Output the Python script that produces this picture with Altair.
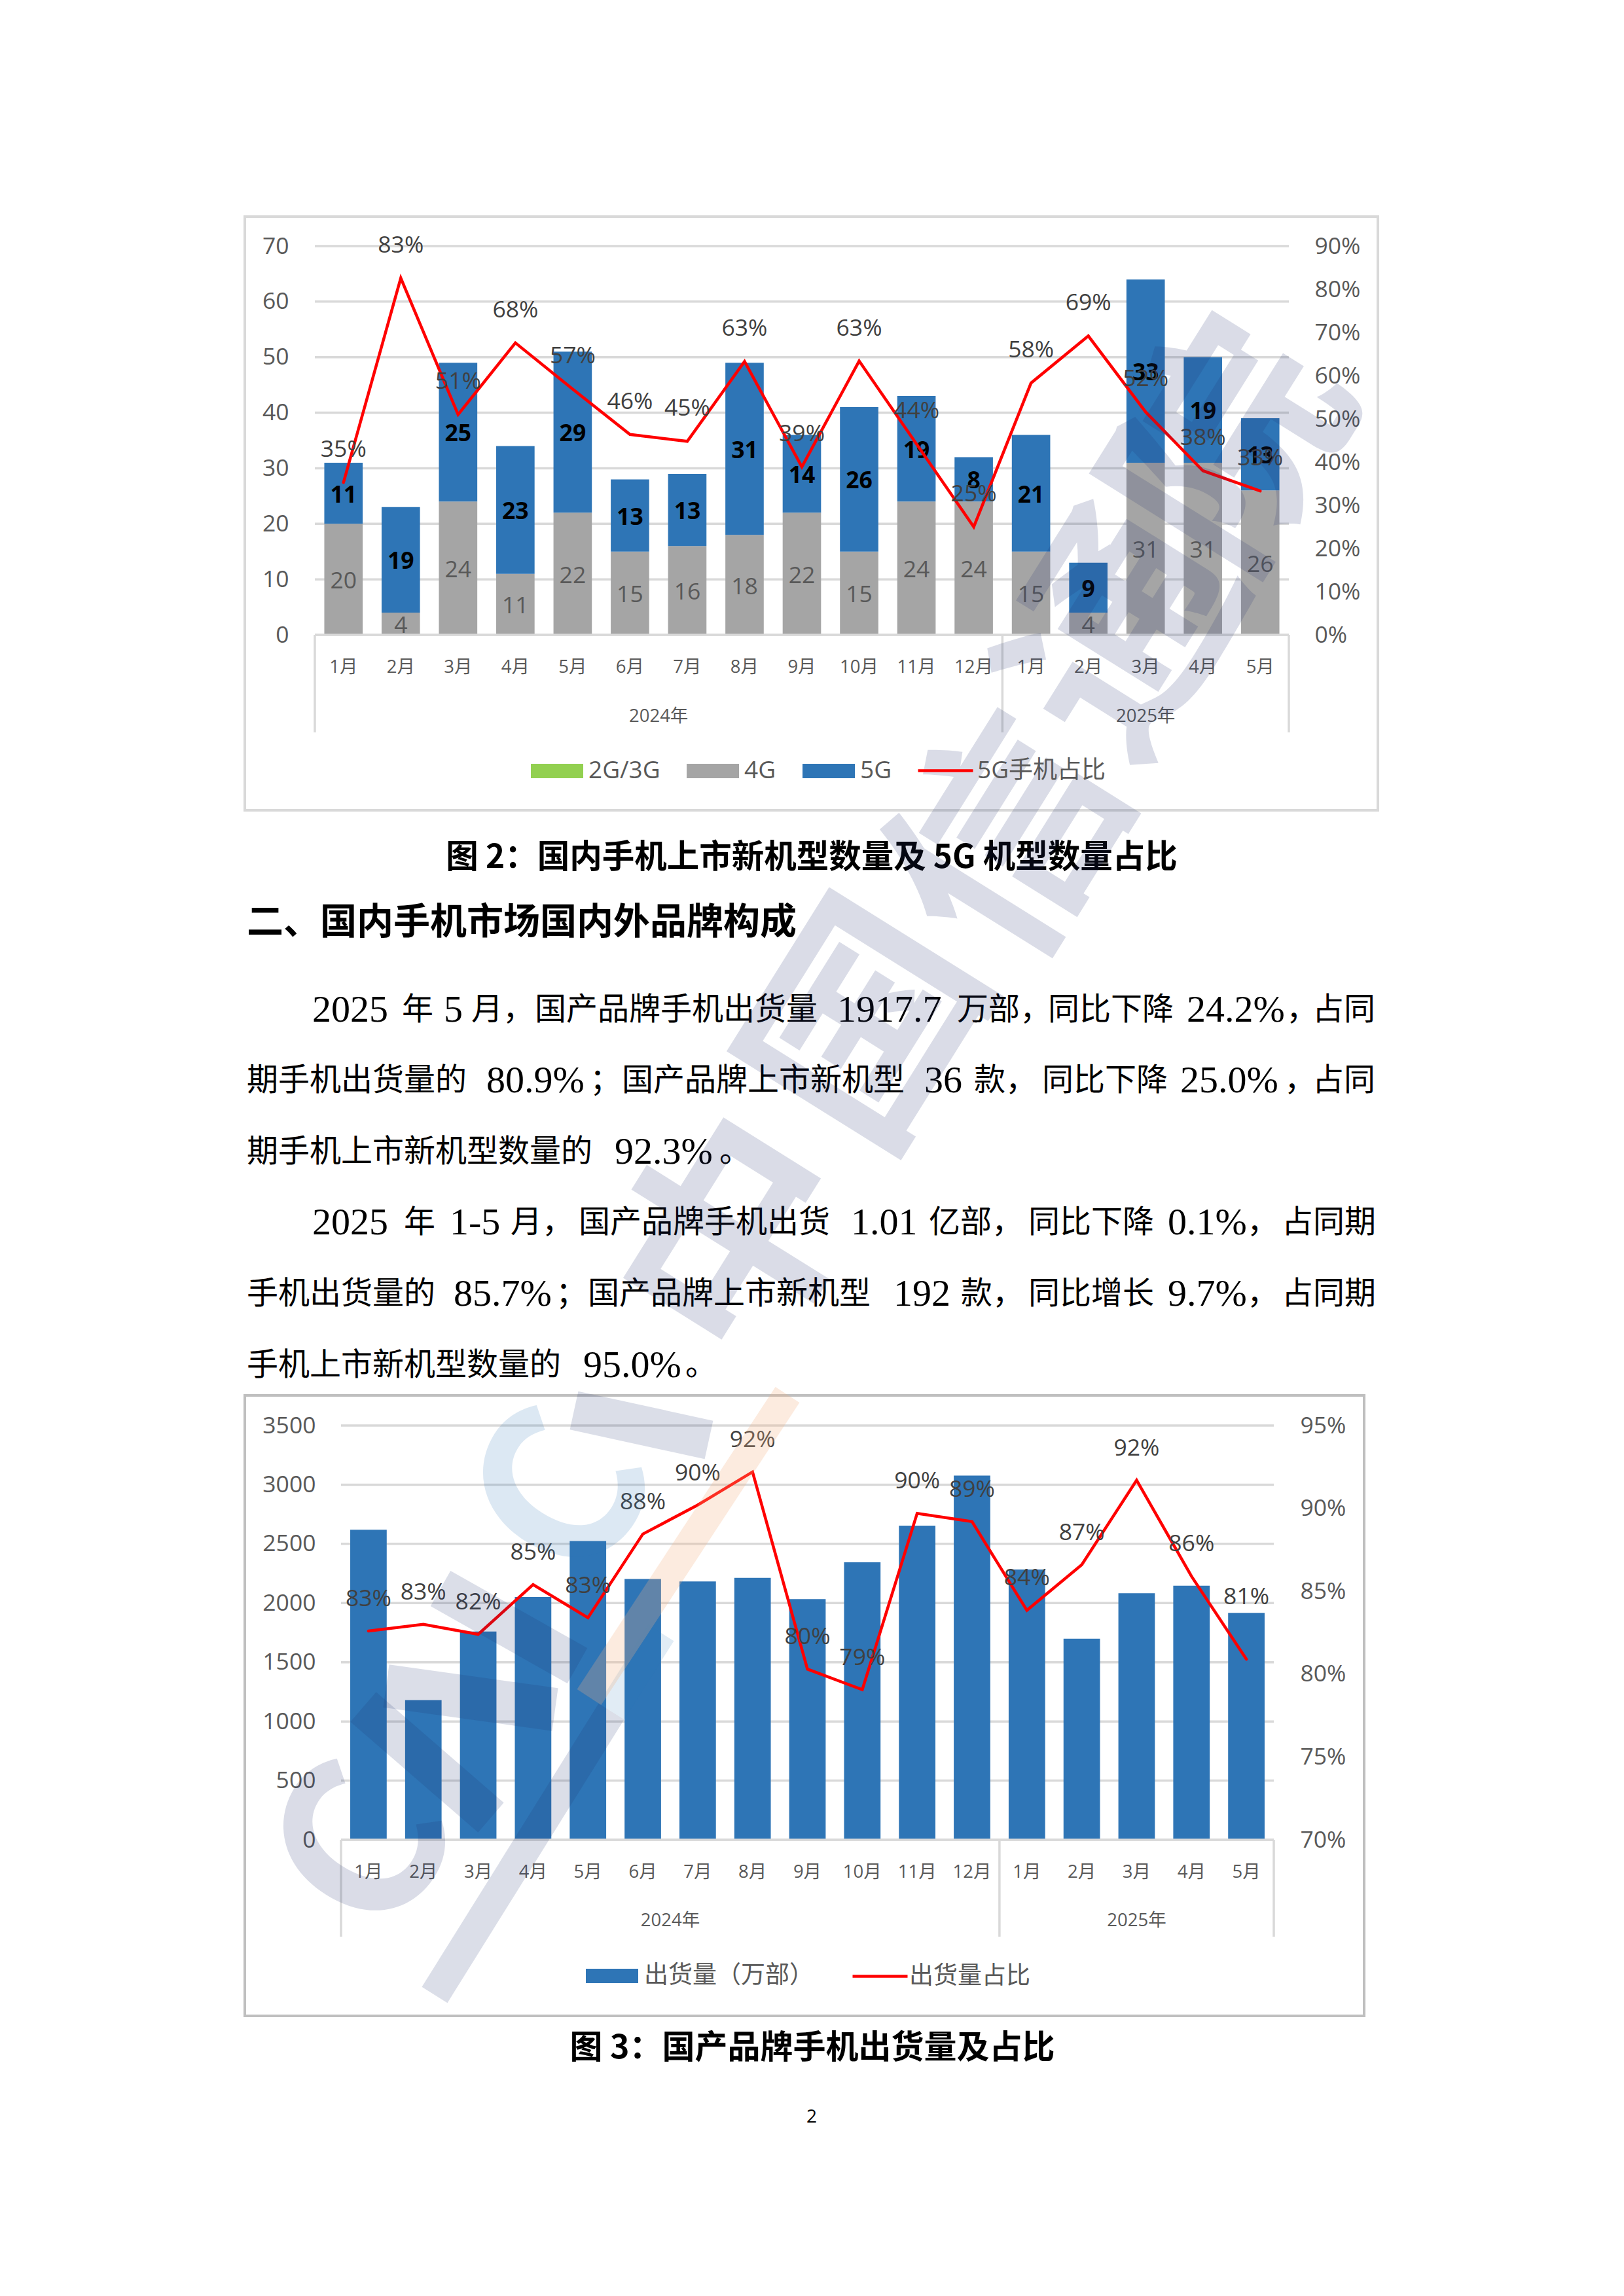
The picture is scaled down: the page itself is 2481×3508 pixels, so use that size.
import altair as alt
import pandas as pd

# ---------- chart values ----------
months = ["1月","2月","3月","4月","5月","6月","7月","8月","9月","10月","11月","12月","1月","2月","3月","4月","5月"]
years = ["2024"]*12 + ["2025"]*5
keys = [y+"-"+m for y,m in zip(years,months)]
models_4g = [20,4,24,11,22,15,16,18,22,15,24,24,15,4,31,31,26]
models_5g = [11,19,25,23,29,13,13,31,14,26,19,8,21,9,33,19,13]
share_5g = [.353,.826,.51,.676,.569,.464,.448,.633,.389,.634,.442,.25,.583,.692,.516,.38,.333]
shipments = [2619,1181,1759,2051,2524,2203,2182,2213,2034,2344,2654,3077,2284,1699,2083,2147,1917.7]
share_dom = [.826,.830,.824,.854,.834,.8845,.902,.922,.803,.7906,.897,.892,.8385,.866,.917,.859,.809]
share_dom_label_anchor = [.826,.830,.824,.854,.834,.8845,.902,.922,.803,.7906,.897,.892,.8385,.866,.917,.859,.827]
series_1 = ["2G/3G","4G","5G"]
ticks_left_1 = [0,10,20,30,40,50,60,70]
ticks_right_1 = [0,.1,.2,.3,.4,.5,.6,.7,.8,.9]
ticks_left_2 = [0,500,1000,1500,2000,2500,3000,3500]
ticks_right_2 = [.70,.75,.80,.85,.90,.95]
year_labels = ["2024年","2025年"]

body_runs = [
 (1544,[("2025",477,1),("年",614,0),("5",678,1),("月，",720,0),("国产品牌手机出货量",817,0),("1917.7",1279,1),("万部，",1462,0),("同比下降",1601,0),("24.2%",1813,1),("，",1965,0),("占同",2005,0)]),
 (1652,[("期手机出货量的",377,0),("80.9%",743,1),("；",901,0),("国产品牌上市新机型",950,0),("36",1412,1),("款，",1488,0),("同比下降",1592,0),("25.0%",1803,1),("，",1962,0),("占同",2005,0)]),
 (1761,[("期手机上市新机型数量的",377,0),("92.3%",939,1),("。",1099,0)]),
 (1869,[("2025",477,1),("年",617,0),("1-5",687,1),("月，",780,0),("国产品牌手机出货",884,0),("1.01",1300,1),("亿部，",1419,0),("同比下降",1571,0),("0.1%",1784,1),("，",1905,0),("占同期",1958,0)]),
 (1978,[("手机出货量的",377,0),("85.7%",693,1),("；",849,0),("国产品牌上市新机型",898,0),("192",1365,1),("款，",1468,0),("同比增长",1571,0),("9.7%",1784,1),("，",1905,0),("占同期",1958,0)]),
 (2087,[("手机上市新机型数量的",377,0),("95.0%",891,1),("。",1047,0)]),
]

SANS = "Open Sans, Noto Sans CJK SC"
CJK = "Noto Sans CJK SC"
SERIF = "Liberation Serif"
GRID = "#d9d9d9"
BLUE = "#2e75b6"
GREY = "#a5a5a5"
GREEN = "#92d050"
TXT = "#595959"
LAB = "#404040"
one = pd.DataFrame({"a":[0]})

def V(p):           # page pixel to view pixel
    return p-8

def text(s,x,y,size,font=CJK,weight="normal",color="black",align="left",angle=None,opacity=None):
    kw = dict(fontSize=size,font=font,fontWeight=weight,color=color,align=align,baseline="middle")
    if angle is not None: kw["angle"]=angle
    if opacity is not None: kw["opacity"]=opacity
    return alt.Chart(one).mark_text(**kw).encode(x=alt.value(V(x)),y=alt.value(V(y)),text=alt.value(s))

def frame(x0,y0,x1,y1,color):
    return alt.Chart(one).mark_rect(fillOpacity=0,stroke=color,strokeWidth=4).encode(
        x=alt.value(V(x0)),x2=alt.value(V(x1)),y=alt.value(V(y0)),y2=alt.value(V(y1)))

def stroke_band(x0,y0,x1,y1,width,color,op):
    return alt.Chart(one).mark_rule(strokeWidth=width,color=color,opacity=op).encode(
        x=alt.value(V(x0)),x2=alt.value(V(x1)),y=alt.value(V(y0)),y2=alt.value(V(y1)))

W,H = 2465,3492
LEG_BOX = "M0,-0.55H4V0.55H0Z"
LEG_LINE = "M0,0H4"
NUM = 35.5

def panel(cfg):
    x0,x1,y0,y1 = cfg["x0"],cfg["x1"],cfg["y0"],cfg["y1"]
    xs = alt.Scale(domain=keys,range=[V(x0),V(x1)],paddingInner=cfg["pad"],paddingOuter=cfg["pad"]/2)
    sx = alt.Scale(domain=[0,17],range=[V(x0),V(x1)],nice=False,zero=False)
    yl = alt.Scale(domain=cfg["dom_l"],range=[V(y0),V(y1)],nice=False,zero=False)
    yr = alt.Scale(domain=cfg["dom_r"],range=[V(y0),V(y1)],nice=False,zero=False)
    L = []
    L.append(alt.Chart(pd.DataFrame({"v":cfg["ticks_l"]})).mark_rule(color=GRID,strokeWidth=3.5).encode(
        y=alt.Y("v:Q",scale=yl,axis=None),x=alt.value(V(x0)),x2=alt.value(V(x1))))
    xaxis = alt.Axis(title=None,orient="bottom",offset=-(H-V(y0)),labelPadding=cfg["lab_pad"],labelFontSize=27.5,labelFont=SANS,
                     labelColor=TXT,ticks=False,domain=False,grid=False,labelAngle=0,labelOverlap=False,
                     labelExpr="split(datum.label,'-')[1]")
    yaxis = alt.Axis(title=None,orient="left",offset=-V(cfg["lx"]),values=cfg["ticks_l"],labelPadding=0,labelFontSize=NUM,labelFont=SANS,
                     labelColor=TXT,ticks=False,domain=False,grid=False,labelOverlap=False,format="d",labelOffset=0)
    bars = cfg["bars"]
    L.append(alt.Chart(bars).mark_bar().encode(
        x=alt.X("key:N",scale=xs,axis=xaxis,sort=keys),
        y=alt.Y("lo:Q",scale=yl,axis=yaxis),y2="hi:Q",
        fill=alt.Fill("series:N",scale=alt.Scale(domain=cfg["fill_dom"],range=cfg["fill_rng"]),
            legend=alt.Legend(title=None,orient="none",legendX=cfg["leg_x"],legendY=cfg["leg_y"],direction="horizontal",
                symbolType=LEG_BOX,symbolSize=1600,symbolStrokeWidth=0,labelFontSize=37,labelFont=SANS,labelColor=TXT,
                labelOffset=cfg["leg_off"],columnPadding=20,padding=0,labelLimit=400,columns=len(cfg["fill_dom"]))),
    ))
    for lab in cfg["labels"]:
        L.append(alt.Chart(lab["df"]).mark_text(fontSize=NUM,font=SANS,fontWeight=lab["w"],color=lab["c"],baseline="middle",dy=3).encode(
            x=alt.X("key:N",scale=xs,axis=None,sort=keys),
            y=alt.Y("mid:Q",scale=yl,axis=None),text=alt.Text("val:Q",format="d")))
    raxis = alt.Axis(title=None,orient="right",offset=-(W-V(cfg["rx"])),values=cfg["ticks_r"],labelPadding=0,labelFontSize=NUM,labelFont=SANS,
                     labelColor=TXT,ticks=False,domain=False,grid=False,labelOverlap=False,format=".0%",labelOffset=0)
    L.append(alt.Chart(cfg["line"]).mark_line(strokeWidth=4.5,strokeJoin="miter",strokeCap="round").encode(
        x=alt.X("key:N",scale=xs,axis=None,sort=keys),
        y=alt.Y("share:Q",scale=yr,axis=raxis),
        order="i:Q",
        stroke=alt.Stroke("name:N",scale=alt.Scale(domain=[cfg["line_name"]],range=["#ff0000"]),
            legend=alt.Legend(title=None,orient="none",legendX=cfg["sleg_x"],legendY=cfg["sleg_y"],direction="horizontal",
                symbolType=LEG_LINE,symbolSize=1764,symbolStrokeWidth=4.5,labelFontSize=37,labelFont=SANS,labelColor=TXT,
                labelOffset=cfg["sleg_off"],padding=0,labelLimit=400))))
    L.append(alt.Chart(cfg["line"]).mark_text(fontSize=NUM,font=SANS,color=LAB,baseline="middle",dy=cfg["dy"]).encode(
        x=alt.X("key:N",scale=xs,axis=None,sort=keys),
        y=alt.Y("anchor:Q",scale=yr,axis=None),
        text=alt.Text("share:Q",format=".0%")))
    L.append(alt.Chart(pd.DataFrame({"a":[0],"b":[17]})).mark_rule(color=GRID,strokeWidth=3.5).encode(
        x=alt.X("a:Q",scale=sx,axis=None),x2="b:Q",y=alt.value(V(y0))))
    L.append(alt.Chart(pd.DataFrame({"a":[0,12,17]})).mark_rule(color=GRID,strokeWidth=3.5).encode(
        x=alt.X("a:Q",scale=sx,axis=None),y=alt.value(V(y0)),y2=alt.value(V(cfg["sep"]))))
    L.append(alt.Chart(pd.DataFrame({"a":[6,14.5],"t":year_labels})).mark_text(fontSize=27.5,font=SANS,color=TXT,baseline="middle").encode(
        x=alt.X("a:Q",scale=sx,axis=None),y=alt.value(V(cfg["yr"])),text="t:N"))
    return L

idx = list(range(17))
b1 = pd.DataFrame({"key":keys*2,
    "series":["4G"]*17+["5G"]*17,
    "lo":[0]*17+models_4g,
    "hi":models_4g+[a+b for a,b in zip(models_4g,models_5g)]})
lab4 = pd.DataFrame({"key":keys,"mid":[a/2 for a in models_4g],"val":models_4g})
lab5 = pd.DataFrame({"key":keys,"mid":[a+b/2 for a,b in zip(models_4g,models_5g)],"val":models_5g})
line1 = pd.DataFrame({"key":keys,"share":share_5g,"anchor":share_5g,"i":idx,"name":"5G手机占比"})

c1 = dict(x0=481,x1=1969,y0=970,y1=376,pad=.33,dom_l=[0,70],dom_r=[0,.9],ticks_l=ticks_left_1,ticks_r=ticks_right_1,
    lx=441,rx=2008,lab_pad=35,bars=b1,fill_dom=series_1,fill_rng=[GREEN,GREY,BLUE],
    leg_x=783,leg_y=1150,leg_off=68,sleg_x=1371,sleg_y=1146,sleg_off=67,
    labels=[dict(df=lab4,w="normal",c=TXT),dict(df=lab5,w="bold",c="black")],
    line=line1,line_name="5G手机占比",dy=-50,sep=1119,yr=1095)

b2 = pd.DataFrame({"key":keys,"series":"出货量（万部）","lo":[0]*17,"hi":shipments})
line2 = pd.DataFrame({"key":keys,"share":share_dom,"anchor":share_dom_label_anchor,"i":idx,"name":"出货量占比"})
c2 = dict(x0=521,x1=1946,y0=2811,y1=2178,pad=.335,dom_l=[0,3500],dom_r=[.70,.95],ticks_l=ticks_left_2,ticks_r=ticks_right_2,
    lx=482,rx=1986,lab_pad=35,bars=b2,fill_dom=["出货量（万部）"],fill_rng=[BLUE],
    leg_x=867,leg_y=2991,leg_off=69,sleg_x=1271,sleg_y=2988,sleg_off=63,
    labels=[],line=line2,line_name="出货量占比",dy=-49,sep=2959,yr=2935)

layers = [frame(374,331,2105,1238,"#d9d9d9"),frame(374,2132,2084,3080,"#bfbfbf")]
layers += panel(c1)
layers += panel(c2)

layers.append(text("图 2：国内手机上市新机型数量及 5G 机型数量占比",1240,1311,49.5,weight="bold",align="center"))
layers.append(text("二、国内手机市场国内外品牌构成",377,1410,56,weight="bold"))
layers.append(text("图 3：国产品牌手机出货量及占比",1241,3130,50,weight="bold",align="center"))
layers.append(text("2",1240,3235,28,font=SANS,align="center"))
for y,runs in body_runs:
    for s,x,latin in runs:
        if latin:
            layers.append(text(s,x,y,58,font=SERIF))
        else:
            layers.append(text(s,x,y,48))

# watermark
WM = "#1f2f6f"
for ch,x,y in [("中",1140,1900),("国",1340,1575),("信",1555,1290),("通",1730,975),("院",1895,690)]:
    layers.append(text(ch,x,y,350,weight="bold",color=WM,align="center",angle=302,opacity=.16))
layers.append(text("C",565,2830,330,weight="bold",color=WM,align="center",angle=302,opacity=.16))
layers.append(text("C",870,2290,330,weight="bold",color="#2e75b6",align="center",angle=302,opacity=.16))
layers.append(stroke_band(664,3048,934,2615,46,WM,.16))
layers.append(stroke_band(934,2615,1010,2495,46,"#2e75b6",.14))
layers.append(stroke_band(900,2593,1203,2131,44,"#f4b183",.26))
layers.append(stroke_band(673,2427,882,2545,62,WM,.16))
layers.append(stroke_band(555,2608,750,2777,60,WM,.16))
layers.append(stroke_band(590,2576,848,2612,66,WM,.16))
layers.append(stroke_band(877,2155,1083,2200,60,WM,.16))

chart = alt.layer(*layers).resolve_scale(x="independent",y="independent",fill="independent",stroke="independent").properties(
    width=W,height=H,padding=0,background="white",autosize=alt.AutoSizeParams(type="none")
).configure_view(strokeWidth=0)

chart.save("out.html", embed_options={"renderer":"svg","actions":False})
